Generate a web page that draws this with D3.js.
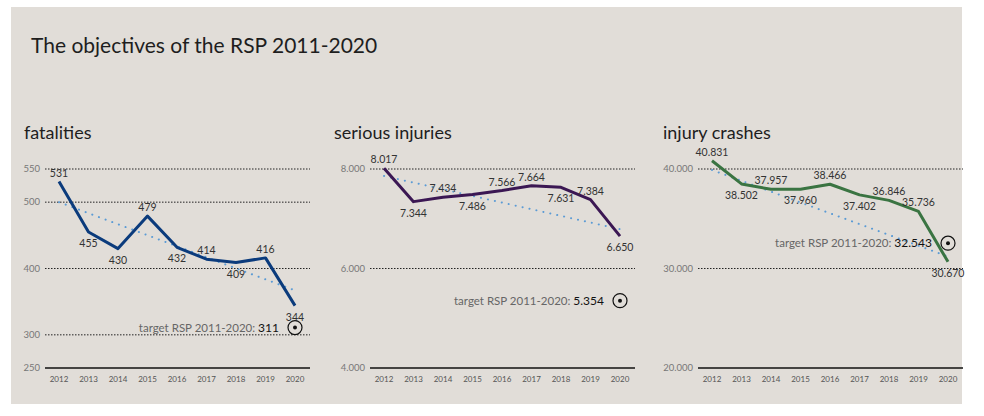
<!DOCTYPE html>
<html>
<head>
<meta charset="utf-8">
<script src="https://cdn.jsdelivr.net/npm/d3@7"></script>
<style>
  body { margin: 0; background: #fff; font-family: Lato, "Noto Sans", sans-serif; }
  .grid line { stroke: #222; stroke-width: 1; stroke-dasharray: 1.5,1.5; }
  .tick-label { fill: #777; font-size: 9.5px; }
  .year-label { fill: #555; font-size: 8px; }
  .val-label { fill: #333; font-size: 10.5px; }
  .trend { fill: none; stroke: #5b9bd5; stroke-width: 2; stroke-dasharray: 0.1,7; stroke-linecap: round; }
  .series { fill: none; stroke-width: 3; stroke-linejoin: round; }
</style>
</head>
<body>
<div id="chart"></div>
<script>
// data
var years = [2012, 2013, 2014, 2015, 2016, 2017, 2018, 2019, 2020];

var fatalities     = [531, 455, 430, 479, 432, 414, 409, 416, 344];
var seriousInjury  = [8017, 7344, 7434, 7486, 7566, 7664, 7631, 7384, 6650];
var injuryCrashes  = [40831, 38502, 37957, 37960, 38466, 37402, 36846, 35736, 30670];

var fatalTicks   = [250, 300, 400, 500, 550];
var seriousTicks = [4000, 6000, 8000];
var crashTicks   = [20000, 30000, 40000];

var targets = [311, 5354, 32543];

// dotted target path, start (2012) and end (2020)
var fatalTrend   = [500, 367];
var seriousTrend = [7860, 6790];
var crashTrend   = [39900, 31200];

var titles = ["fatalities", "serious injuries", "injury crashes"];

// label placement: 1 = above the point, 0 = below
var fatalPlace   = [1, 0, 0, 1, 0, 1, 0, 1, 0];
var seriousPlace = [1, 0, 1, 0, 1, 1, 0, 1, 0];
var crashPlace   = [1, 0, 1, 0, 1, 0, 1, 1, 0];

var panels = [
  { title: titles[0], values: fatalities, ticks: fatalTicks, domain: [250, 550], target: targets[0],
    trend: fatalTrend, place: fatalPlace, color: "#0b3b7c", x0: 45, tx: 24 },
  { title: titles[1], values: seriousInjury, ticks: seriousTicks, domain: [4000, 8000], target: targets[1],
    trend: seriousTrend, place: seriousPlace, color: "#3b1753", x0: 370, tx: 334 },
  { title: titles[2], values: injuryCrashes, ticks: crashTicks, domain: [20000, 40000], target: targets[2],
    trend: crashTrend, place: crashPlace, color: "#3a7442", x0: 698, tx: 663 }
];

var W = 984, H = 416;
var fmt = d3.formatLocale({ decimal: ",", thousands: ".", grouping: [3], currency: ["", ""] }).format(",d");

var svg = d3.select("#chart").append("svg")
  .attr("width", W)
  .attr("height", H);

// panel background
svg.append("rect")
  .attr("x", 11).attr("y", 7)
  .attr("width", 951).attr("height", 397)
  .attr("fill", "#e1ddd8");

svg.append("text")
  .attr("x", 31).attr("y", 53)
  .attr("fill", "#1e1e1e")
  .style("font-size", "21px")
  .text("The objectives of the RSP 2011-2020");

var yTop = 169, yBottom = 368, axisW = 265;

panels.forEach(function(p) {

  var g = svg.append("g").attr("transform", "translate(" + p.x0 + ",0)");

  svg.append("text")
    .attr("x", p.tx).attr("y", 139)
    .attr("fill", "#1e1e1e")
    .style("font-size", "18px")
    .text(p.title);

  var x = d3.scalePoint().domain(years).range([14, 250]);
  var y = d3.scaleLinear().domain(p.domain).range([yBottom, yTop]);

  // grid
  var grid = g.append("g").attr("class", "grid");
  grid.selectAll("line")
    .data(p.ticks.filter(d => d != p.domain[0]))
    .join("line")
    .attr("x1", 0).attr("x2", axisW)
    .attr("y1", d => y(d)).attr("y2", d => y(d));

  g.append("line")
    .attr("x1", 0).attr("x2", axisW)
    .attr("y1", y(p.domain[0])).attr("y2", y(p.domain[0]))
    .attr("stroke", "#111").attr("stroke-width", 1.5);

  g.selectAll(".tick-label")
    .data(p.ticks)
    .join("text")
    .attr("class", "tick-label")
    .attr("x", -5)
    .attr("y", d => y(d) + 3)
    .attr("text-anchor", "end")
    .text(d => fmt(d));

  g.selectAll(".year-label")
    .data(years)
    .join("text")
    .attr("class", "year-label")
    .attr("x", d => x(d))
    .attr("y", 382)
    .attr("text-anchor", "middle")
    .text(d => d);

  // dotted target path
  g.append("path")
    .datum([[years[0], p.trend[0]], [years[years.length - 1], p.trend[1]]])
    .attr("class", "trend")
    .attr("d", d3.line().x(d => x(d[0])).y(d => y(d[1])));

  var pts = years.map((yr, i) => ({ year: yr, v: p.values[i], above: p.place[i] }));

  g.append("path")
    .datum(pts)
    .attr("class", "series")
    .attr("stroke", p.color)
    .attr("d", d3.line().x(d => x(d.year)).y(d => y(d.v)));

  g.selectAll(".val-label")
    .data(pts)
    .join("text")
    .attr("class", "val-label")
    .attr("x", d => x(d.year))
    .attr("y", d => y(d.v) + (d.above ? -5 : 15))
    .attr("text-anchor", "middle")
    .text(d => fmt(d.v));

  // target marker
  var tx = x(years[years.length - 1]), ty = y(p.target);
  g.append("circle")
    .attr("cx", tx).attr("cy", ty).attr("r", 7)
    .attr("fill", "none").attr("stroke", "#111").attr("stroke-width", 1.2);
  g.append("circle")
    .attr("cx", tx).attr("cy", ty).attr("r", 2)
    .attr("fill", "#111");

  var t = g.append("text")
    .attr("x", tx - 16).attr("y", ty + 4)
    .attr("text-anchor", "end")
    .style("font-size", "11.5px");
  t.append("tspan").attr("fill", "#666").text("target RSP 2011-2020: ");
  t.append("tspan").attr("fill", "#111").style("font-size", "12px").text(fmt(p.target));
});
</script>
</body>
</html>
